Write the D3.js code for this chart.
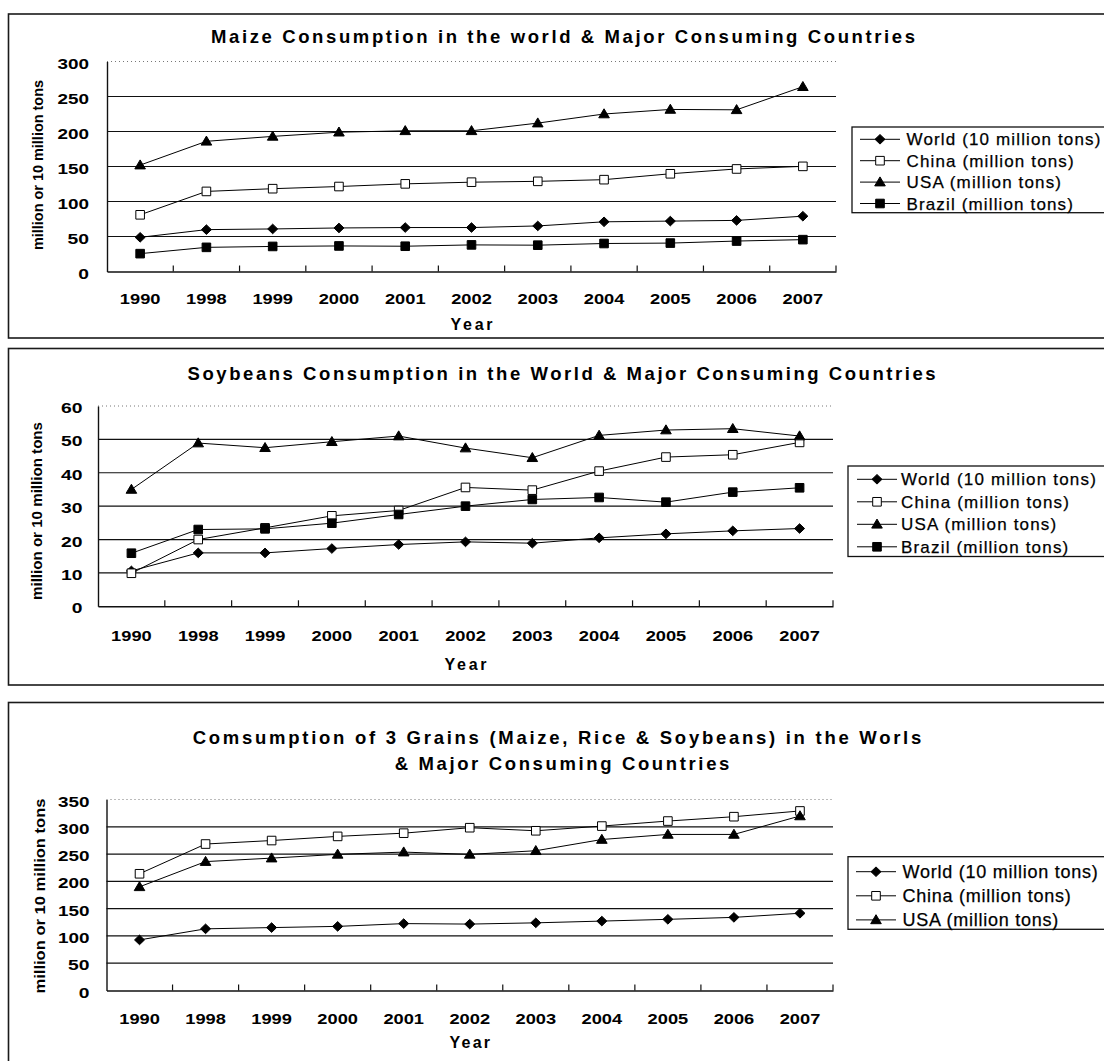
<!DOCTYPE html>
<html><head><meta charset="utf-8">
<script src="https://cdn.jsdelivr.net/npm/d3@7"></script>
<style>body{margin:0;background:#fff} svg{display:block}</style>
</head><body>
<svg id="c" width="1104" height="1061"></svg>
<script>
const categories = ["1990","1998","1999","2000","2001","2002","2003","2004","2005","2006","2007"];

const maizeWorld  = [48.8, 59.8, 60.8, 62.2, 62.8, 62.8, 65.1, 71, 72, 73, 79];
const maizeChina  = [81, 114.4, 118.3, 121.4, 125.2, 127.6, 128.8, 131.2, 139.6, 146.5, 150.2];
const maizeUSA    = [152, 186, 193, 199, 201, 201, 212, 225, 231.5, 231, 264];
const maizeBrazil = [25.5, 34.5, 35.8, 36.5, 36.1, 38, 37.6, 40, 40.6, 43.5, 45.5];

const soyWorld  = [10.6, 16, 16, 17.3, 18.5, 19.3, 18.9, 20.5, 21.7, 22.6, 23.3];
const soyChina  = [9.9, 20, 23.5, 27.1, 28.7, 35.6, 34.8, 40.5, 44.7, 45.4, 49.1];
const soyUSA    = [35, 48.9, 47.5, 49.3, 51, 47.4, 44.5, 51.2, 52.8, 53.2, 51];
const soyBrazil = [15.9, 23, 23.2, 24.9, 27.5, 30, 32, 32.6, 31.2, 34.2, 35.5];

const grainWorld = [92.7, 113, 115.3, 117.5, 122.6, 121.7, 124, 127.2, 130.4, 134, 141.5];
const grainChina = [213.9, 268.4, 274.8, 282.4, 288.3, 298.3, 292.7, 301.3, 310.5, 318.5, 329];
const grainUSA   = [190, 236.2, 242.6, 249.5, 253.6, 249.5, 256.1, 276.7, 286, 286, 319.8];

const legendLabels = ["World (10 million tons)", "China (million tons)", "USA (million tons)", "Brazil (million tons)"];
const markerTypes = ["diamond", "openSquare", "triangle", "filledSquare"];

const yTicksMaize = [0, 50, 100, 150, 200, 250, 300];
const yTicksSoy   = [0, 10, 20, 30, 40, 50, 60];
const yTicksGrain = [0, 50, 100, 150, 200, 250, 300, 350];

const titleMaize = ["Maize Consumption in the world & Major Consuming Countries"];
const titleSoy   = ["Soybeans Consumption in the World & Major Consuming Countries"];
const titleGrain = ["Comsumption of 3 Grains (Maize, Rice & Soybeans) in the Worls", "& Major Consuming Countries"];
const xTitle = "Year";
const yTitle = "million or 10 million tons";

const FONT = "'Liberation Sans', Arial, sans-serif";
const svg = d3.select("#c");

function markerPath(t) {
  if (t === "diamond") return "M0,-4.8L5,0L0,4.8L-5,0Z";
  if (t === "triangle") return "M0,-5.2L5.3,3.8L-5.3,3.8Z";
  return "M-4.3,-4.3H4.3V4.3H-4.3Z";
}
function markerFill(t) { return t === "openSquare" ? "#fff" : "#000"; }

function drawChart(cfg) {
  const g = svg.append("g");
  g.append("rect").attr("x", 8.5).attr("y", cfg.panelTop).attr("width", 1120).attr("height", cfg.panelH)
    .attr("fill", "none").attr("stroke", "#1a1a1a").attr("stroke-width", 1.6);

  const x = d3.scaleBand().domain(categories).range([cfg.l, cfg.r]);
  const y = d3.scaleLinear().domain([0, cfg.yMax]).range([cfg.b, cfg.t]);
  const cx = c => x(c) + x.bandwidth() / 2;

  // title
  cfg.title.forEach((t, i) => {
    const tl = cfg.titlePos[i];
    g.append("text").attr("x", tl.cx - tl.w / 2).attr("y", tl.base).text(t)
      .attr("font-family", FONT).attr("font-weight", "bold").attr("font-size", 18.5)
      .attr("textLength", tl.w).attr("lengthAdjust", "spacing").attr("fill", "#000");
  });

  // gridlines
  g.selectAll("line.grid").data(cfg.yTicks.filter(v => v > 0 && v < cfg.yMax)).join("line")
    .attr("class", "grid").attr("x1", cfg.l).attr("x2", cfg.r)
    .attr("y1", d => y(d)).attr("y2", d => y(d)).attr("stroke", "#111").attr("stroke-width", 1.2);
  g.append("line").attr("x1", cfg.l).attr("x2", cfg.r).attr("y1", y(cfg.yMax)).attr("y2", y(cfg.yMax))
    .attr("stroke", "#777").attr("stroke-dasharray", "1,3");

  // y axis
  const widths = [0, 10.7, 21.5, 31.5];
  const ya = g.append("g").attr("transform", `translate(${cfg.l},0)`)
    .call(d3.axisLeft(y).tickValues(cfg.yTicks).tickSize(0).tickSizeOuter(0).tickFormat(d3.format("d")));
  ya.attr("font-family", null).attr("font-size", null);
  ya.select(".domain").attr("stroke", "#111").attr("stroke-width", 1.4);
  ya.selectAll("text").each(function(d) {
    const s = String(d), w = widths[s.length];
    d3.select(this).attr("text-anchor", "start").attr("x", -(cfg.yGap + w)).attr("dy", null).attr("y", 6.5)
      .attr("font-family", FONT).attr("font-weight", "bold").attr("font-size", 15.5).attr("fill", "#000")
      .attr("textLength", w).attr("lengthAdjust", "spacingAndGlyphs");
  });

  // x axis
  const xa = g.append("g").attr("transform", `translate(0,${cfg.b})`)
    .call(d3.axisBottom(x).tickSize(0).tickSizeOuter(0));
  xa.attr("font-family", null).attr("font-size", null);
  xa.select(".domain").attr("stroke", "#111").attr("stroke-width", 1.5);
  xa.selectAll("text").attr("text-anchor", "start").attr("x", -20.3).attr("dy", null).attr("y", cfg.xLabelBase - cfg.b)
    .attr("font-family", FONT).attr("font-weight", "bold").attr("font-size", 15.5).attr("fill", "#000")
    .attr("textLength", 40.6).attr("lengthAdjust", "spacingAndGlyphs");
  // boundary tick marks (inside)
  g.selectAll("line.bt").data(d3.range(1, categories.length + 1)).join("line").attr("class", "bt")
    .attr("x1", i => cfg.l + i * x.step()).attr("x2", i => cfg.l + i * x.step())
    .attr("y1", cfg.b).attr("y2", cfg.b - 6).attr("stroke", "#111").attr("stroke-width", 1.2);

  // axis titles
  const pc = (cfg.l + cfg.r) / 2;
  g.append("text").attr("x", pc - cfg.yearW / 2).attr("y", cfg.yearBase).text(xTitle)
    .attr("font-family", FONT).attr("font-weight", "bold").attr("font-size", 16)
    .attr("textLength", cfg.yearW).attr("lengthAdjust", "spacing");
  g.append("text").attr("transform", `translate(${cfg.ytX},${cfg.ytY}) rotate(-90)`)
    .attr("x", -cfg.ytLen / 2).attr("y", 0).attr("dy", "0.36em").text(yTitle)
    .attr("font-family", FONT).attr("font-weight", "bold").attr("font-size", cfg.ytSize)
    .attr("textLength", cfg.ytLen).attr("lengthAdjust", "spacingAndGlyphs");

  // series
  const line = d3.line().x((d, i) => cx(categories[i])).y(d => y(d));
  cfg.series.forEach((vals) => {
    g.append("path").attr("d", line(vals)).attr("fill", "none").attr("stroke", "#000").attr("stroke-width", 1);
  });
  cfg.series.forEach((vals, si) => {
    const t = markerTypes[si];
    g.selectAll(null).data(vals).join("path")
      .attr("transform", (d, i) => `translate(${cx(categories[i])},${y(d)})`)
      .attr("d", markerPath(t)).attr("fill", markerFill(t)).attr("stroke", "#000").attr("stroke-width", 1);
  });

  // legend
  const L = cfg.legend;
  g.append("rect").attr("x", L.x).attr("y", L.y0).attr("width", 400).attr("height", L.y1 - L.y0)
    .attr("fill", "#fff").attr("stroke", "#111").attr("stroke-width", 1.3);
  const n = cfg.series.length;
  let ls = 0;
  for (let i = 0; i < n; i++) {
    const yy = L.y0 + L.first + i * L.step;
    const t = markerTypes[i];
    g.append("line").attr("x1", L.lx1).attr("x2", L.lx2).attr("y1", yy).attr("y2", yy).attr("stroke", "#000").attr("stroke-width", 1);
    g.append("path").attr("transform", `translate(${L.mx},${yy})`).attr("d", markerPath(t))
      .attr("fill", markerFill(t)).attr("stroke", "#000").attr("stroke-width", 1);
    const tx = g.append("text").attr("x", L.tx).attr("y", yy + L.fs * 0.36).text(legendLabels[i])
      .attr("font-family", FONT).attr("font-size", L.fs).attr("fill", "#000")
      .attr("stroke", "#000").attr("stroke-width", 0.25);
    if (i === 0) {
      const nat = tx.node().getComputedTextLength();
      ls = (L.w0 - nat) / legendLabels[0].length;
    }
    tx.attr("letter-spacing", ls + "px");
  }
}

drawChart({
  panelTop: 14, panelH: 324, l: 107, r: 836, t: 61.5, b: 271.5, yMax: 300, yTicks: yTicksMaize,
  title: titleMaize, titlePos: [{cx: 563, w: 704, base: 43}],
  yGap: 18, xLabelBase: 304, yearBase: 330, yearW: 42,
  ytX: 37.5, ytY: 165, ytLen: 170, ytSize: 14,
  series: [maizeWorld, maizeChina, maizeUSA, maizeBrazil],
  legend: {x: 852, y0: 127, y1: 212.7, first: 12.3, step: 21.4, lx1: 860, lx2: 900, mx: 880, tx: 906.5, fs: 17, w0: 195}
});

drawChart({
  panelTop: 348.5, panelH: 336.5, l: 98, r: 833, t: 406, b: 606.3, yMax: 60, yTicks: yTicksSoy,
  title: titleSoy, titlePos: [{cx: 561.6, w: 748, base: 380}],
  yGap: 15.5, xLabelBase: 641, yearBase: 670, yearW: 42,
  ytX: 36.5, ytY: 511, ytLen: 178, ytSize: 14,
  series: [soyWorld, soyChina, soyUSA, soyBrazil],
  legend: {x: 848, y0: 466, y1: 556.5, first: 13.3, step: 22.5, lx1: 857, lx2: 897, mx: 877, tx: 901, fs: 17, w0: 196}
});

drawChart({
  panelTop: 702.5, panelH: 420, l: 106.5, r: 833, t: 799.5, b: 990.5, yMax: 350, yTicks: yTicksGrain,
  title: titleGrain, titlePos: [{cx: 557, w: 728.5, base: 744}, {cx: 562, w: 334.7, base: 770}],
  yGap: 17, xLabelBase: 1024, yearBase: 1048, yearW: 40.5,
  ytX: 39, ytY: 896, ytLen: 195, ytSize: 15.5,
  series: [grainWorld, grainChina, grainUSA],
  legend: {x: 848, y0: 856.7, y1: 929.3, first: 15, step: 24.1, lx1: 856, lx2: 896, mx: 876, tx: 902.5, fs: 18, w0: 196}
});
</script>
</body></html>
